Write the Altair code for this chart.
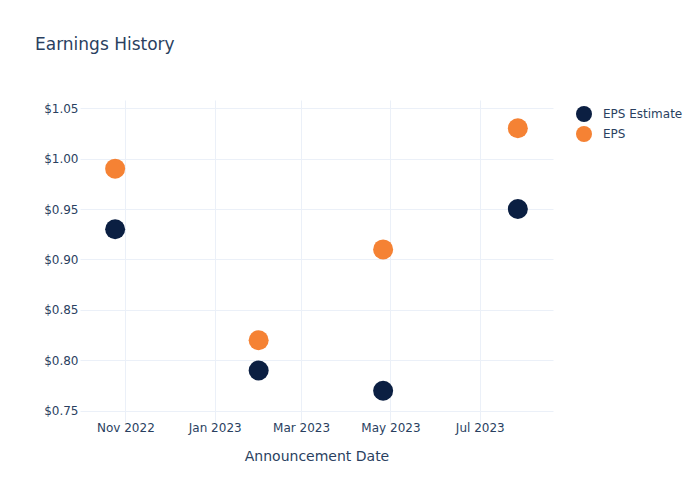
import altair as alt
import pandas as pd

dates = ["2022-10-25", "2023-01-31", "2023-04-26", "2023-07-27"]
eps_estimate = [0.93, 0.79, 0.77, 0.95]
eps_actual = [0.99, 0.82, 0.91, 1.03]
series_names = ["EPS Estimate", "EPS"]
series_colors = ["#0b1f42", "#f58234"]

rows = []
for d, e, a in zip(dates, eps_estimate, eps_actual):
    rows.append({"date": d, "value": e, "series": series_names[0]})
    rows.append({"date": d, "value": a, "series": series_names[1]})
df = pd.DataFrame(rows)

font = "DejaVu Sans"
text_color = "#2a3f5f"
grid_color = "#ebf0f8"

chart = alt.Chart(df).mark_circle(size=400, opacity=1).encode(
    x=alt.X(
        "date:T",
        title="Announcement Date",
        scale=alt.Scale(domain=["2022-10-01", "2023-08-20"]),
        axis=alt.Axis(
            values=["2022-11-01", "2023-01-01", "2023-03-01", "2023-05-01", "2023-07-01"],
            format="%b %Y",
            labelFontSize=12,
            labelColor=text_color,
            labelFont=font,
            titleFont=font,
            titleFontSize=14,
            titleFontWeight="normal",
            titleColor=text_color,
            titlePadding=16,
            domain=False,
            ticks=False,
            labelPadding=0,
            gridColor=grid_color,
        ),
    ),
    y=alt.Y(
        "value:Q",
        title=None,
        scale=alt.Scale(domain=[0.739, 1.058], nice=False, zero=False),
        axis=alt.Axis(
            values=[0.75, 0.80, 0.85, 0.90, 0.95, 1.00, 1.05],
            format="$.2f",
            labelFontSize=12,
            labelColor=text_color,
            labelFont=font,
            domain=False,
            ticks=False,
            labelPadding=2,
            gridColor=grid_color,
        ),
    ),
    color=alt.Color(
        "series:N",
        scale=alt.Scale(domain=series_names, range=series_colors),
        legend=alt.Legend(
            title=None,
            orient="none",
            legendX=495,
            legendY=5,
            symbolSize=256,
            symbolType="circle",
            labelFontSize=12,
            labelFont=font,
            labelColor=text_color,
            rowPadding=3,
            labelOffset=10,
        ),
    ),
).properties(
    width=473,
    height=322,
    padding={"left": 80, "top": 100, "right": 147, "bottom": 78},
    autosize=alt.AutoSizeParams(type="none"),
    title=alt.TitleParams(
        "Earnings History",
        anchor="start",
        frame="group",
        dx=-45,
        offset=46,
        fontSize=17,
        fontWeight="normal",
        font=font,
        color=text_color,
    ),
).configure(
    background="white",
    view=alt.ViewConfig(strokeWidth=0, stroke=None),
)

chart.save("out.html", embed_options={"renderer": "svg", "actions": False})
